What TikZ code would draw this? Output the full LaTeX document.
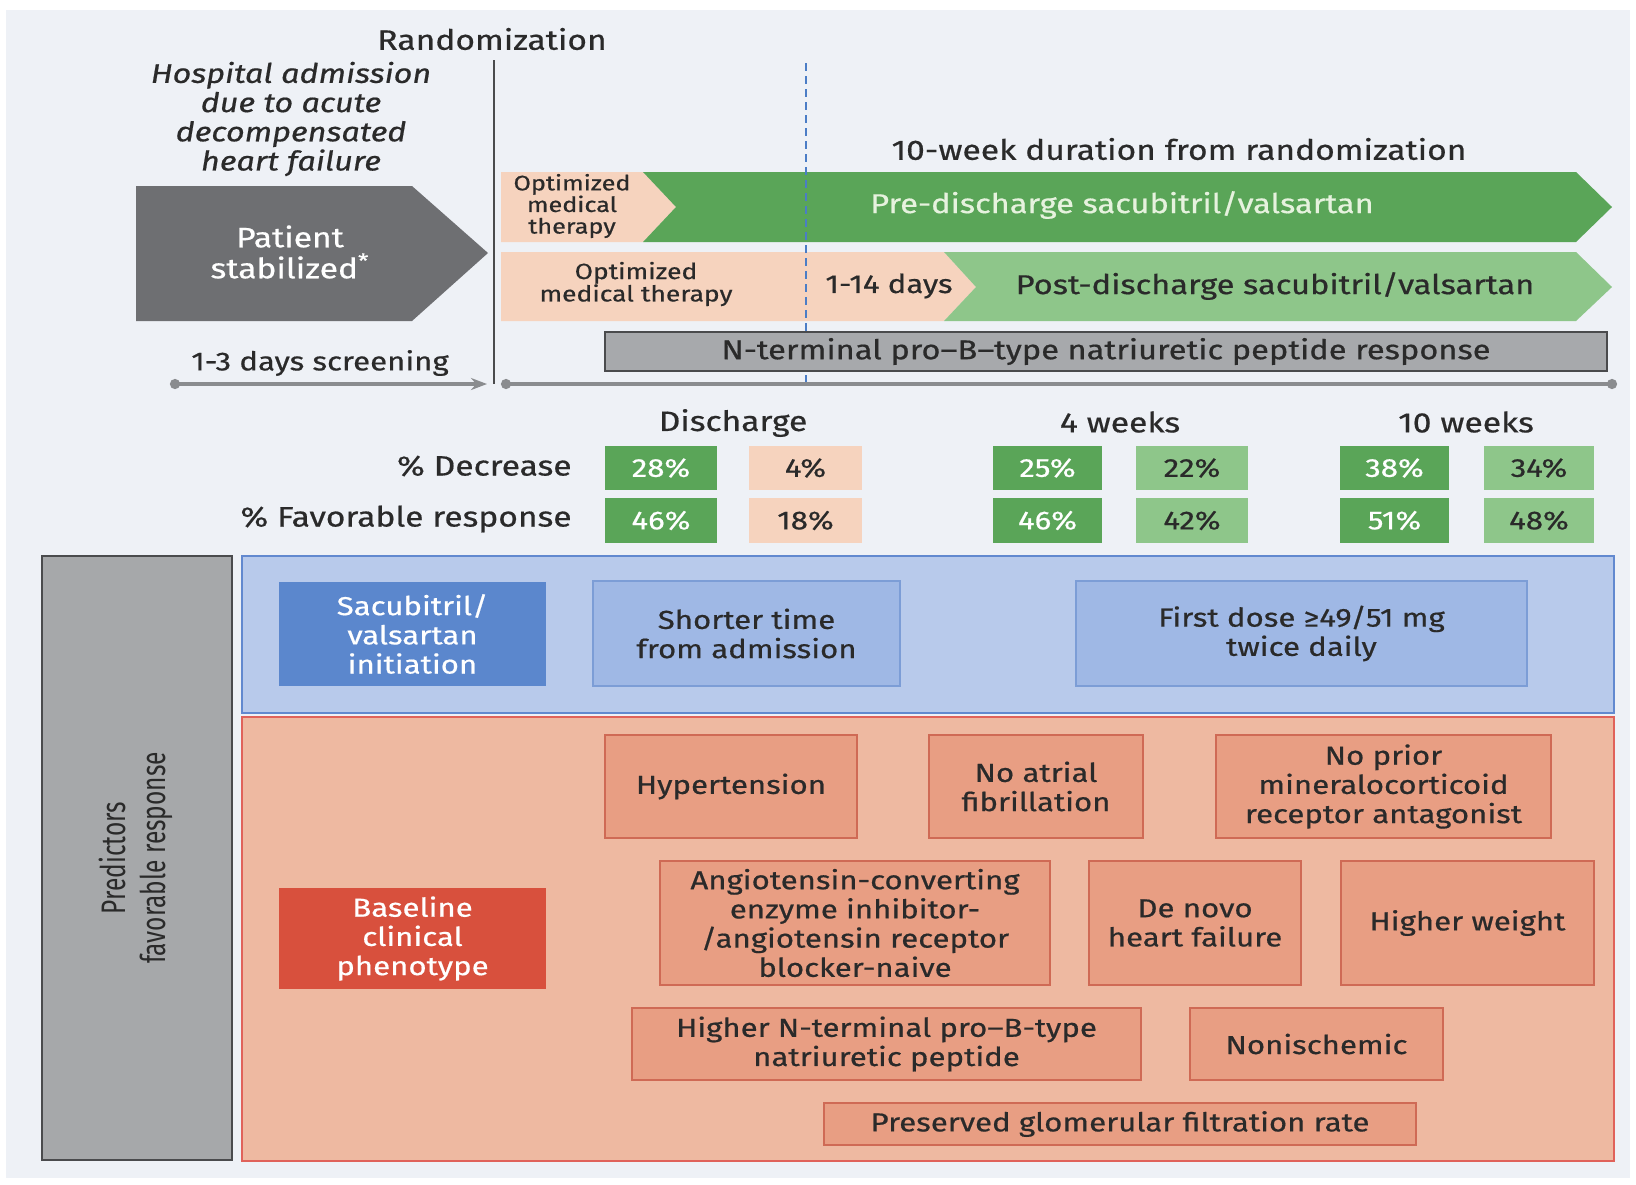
\documentclass[tikz,border=0pt]{standalone}
\usepackage{fontspec}
\setmainfont{Fira Sans}[FakeStretch=1.2, FakeBold=0.6]
\newfontfamily\narrowfont{Fira Sans}[FakeStretch=0.72]
\usetikzlibrary{arrows.meta,fit}

\definecolor{ink}{HTML}{2A2A2A}
\definecolor{pagebg}{HTML}{EEF1F6}
\definecolor{stabgray}{HTML}{6E6F72}
\definecolor{dgreen}{HTML}{5AA558}
\definecolor{lgreen}{HTML}{8EC68A}
\definecolor{pretext}{HTML}{E6F2DE}
\definecolor{peach}{HTML}{F6D3BE}
\definecolor{ntgray}{HTML}{A7A9AC}
\definecolor{darkedge}{HTML}{4A4B4D}
\definecolor{linegray}{HTML}{8A8C8F}
\definecolor{dashblue}{HTML}{4B7DC6}
\definecolor{bluepanel}{HTML}{B8CAEB}
\definecolor{blueedge}{HTML}{6289CF}
\definecolor{bluedark}{HTML}{5B87CD}
\definecolor{bluebox}{HTML}{9FB8E5}
\definecolor{boxedge}{HTML}{7C9DD6}
\definecolor{salpanel}{HTML}{EEB9A1}
\definecolor{saledge}{HTML}{E0625A}
\definecolor{redbox}{HTML}{D8503D}
\definecolor{salbox}{HTML}{E89E83}
\definecolor{salboxedge}{HTML}{CF6A55}
\definecolor{sidegray}{HTML}{A6A8AA}

\tikzset{
  lbl/.style={inner sep=0pt, align=center, text=ink, font=\fontsize{13}{14.6}\selectfont},
  hdr/.style={lbl, font=\fontsize{14}{16}\selectfont},
  ital/.style={lbl, font=\fontsize{13.5}{14.6}\selectfont\itshape},
  bar/.style={lbl, font=\fontsize{13.6}{14.6}\selectfont},
  smalltxt/.style={lbl, font=\fontsize{10.5}{10.8}\selectfont},
  medtxt/.style={lbl, font=\fontsize{11}{11.2}\selectfont},
  % rectangles sized by their corners; their text is set in a separate node
  cbox/.style={inner sep=0pt, line width=1pt},
  pbox/.style={cbox, draw=salboxedge, fill=salbox},
  lbbox/.style={cbox, draw=boxedge, fill=bluebox},
  dbbox/.style={cbox, fill=bluedark},
  rbox/.style={cbox, fill=redbox},
  boxtxt/.style={lbl},
  wboxtxt/.style={lbl, text=white},
  dgcell/.style={cbox, fill=dgreen},
  lgcell/.style={cbox, fill=lgreen},
  pecell/.style={cbox, fill=peach},
  celltxt/.style={lbl, font=\fontsize{13}{14}\selectfont},
  wcelltxt/.style={celltxt, text=white},
  tline/.style={draw=linegray, line width=1.6pt},
}

\begin{document}
\begin{tikzpicture}[x=0.5pt, y=-0.5pt]
% page and panel background
\fill[white] (0,0) rectangle (1636,1184);
\fill[pagebg] (6,10) rectangle (1630,1178);
\useasboundingbox (0,0) rectangle (1636,1184);

% ---------- timeline header ----------
\node[hdr] (rand) at (492,39) {Randomization};
\node[ital] (adm) at (291,119) {Hospital admission\\due to acute\\decompensated\\heart failure};
\node[hdr] (dur) at (1179,149) {10-week duration from randomization};

% patient stabilized arrow
\fill[stabgray] (136,186) -- (412,186) -- (488,253) -- (412,321) -- (136,321) -- cycle;
\node[lbl, text=white, font=\fontsize{14}{15.5}\selectfont] (stab) at (290,252) {Patient\\stabilized\textsuperscript{*}};

% arm 1: pre-discharge
\fill[peach] (501,172) -- (643,172) -- (676,207) -- (643,242) -- (501,242) -- cycle;
\fill[dgreen] (643,172) -- (1576,172) -- (1612,207) -- (1576,242) -- (643,242) -- (676,207) -- cycle;
\node[smalltxt] (omt1) at (572,206) {Optimized\\medical\\therapy};
\node[bar, text=pretext] (pre) at (1122,205) {Pre-discharge sacubitril/valsartan};

% arm 2: post-discharge
\fill[peach] (501,252) -- (944,252) -- (976,287) -- (944,321) -- (501,321) -- cycle;
\fill[lgreen] (944,252) -- (1576,252) -- (1612,287) -- (1576,321) -- (944,321) -- (976,287) -- cycle;
\node[medtxt] (omt2) at (636,284) {Optimized\\medical therapy};
\node[lbl] (d14) at (889,286) {1-14 days};
\node[bar] (post) at (1275,286) {Post-discharge sacubitril/valsartan};

% discharge marker (runs behind the NT-proBNP bar)
\coordinate (dtop) at (806,63);
\coordinate (dbot) at (806,384);
\draw[draw=dashblue, line width=1pt, dash pattern=on 4pt off 2.5pt] (dtop) -- (dbot);

% NT-proBNP bar
\node[cbox, draw=darkedge, fill=ntgray, line width=1.4pt, fit={(605,332)(1607,371)}] (nt) {};
\node[bar] (ntt) at (nt.center) {N-terminal pro–B–type natriuretic peptide response};

% screening and follow-up axes
\node[lbl] (scr) at (320,363) {1-3 days screening};
\coordinate (s0) at (170,384);
\coordinate (s1) at (487,384);
\coordinate (t0) at (501,384);
\coordinate (t1) at (1617,384);
\draw[tline, {Circle[length=5pt]}-{Stealth[length=8pt,width=6pt]}] (s0) -- (s1);
\draw[tline, {Circle[length=5pt]}-{Circle[length=5pt]}] (t0) -- (t1);

% randomization marker
\coordinate (rtop) at (494,60);
\coordinate (rbot) at (494,384);
\draw[draw=darkedge, line width=1.2pt] (rtop) -- (rbot);

% ---------- response table ----------
\node[hdr] (hdis) at (733,423) {Discharge};
\node[hdr] (h4w) at (1120,422) {4 weeks};
\node[hdr] (h10w) at (1466,422) {10 weeks};
\node[hdr, anchor=east] (decL) at (572,466) {\% Decrease};
\node[hdr, anchor=east] (favL) at (572,519) {\% Favorable response};

\node[dgcell, fit={(605,446)(717,490)}] (c11) {};
\node[pecell, fit={(749,446)(862,490)}] (c12) {};
\node[dgcell, fit={(993,446)(1102,490)}] (c13) {};
\node[lgcell, fit={(1136,446)(1248,490)}] (c14) {};
\node[dgcell, fit={(1340,446)(1449,490)}] (c15) {};
\node[lgcell, fit={(1484,446)(1594,490)}] (c16) {};
\node[dgcell, fit={(605,498)(717,543)}] (c21) {};
\node[pecell, fit={(749,498)(862,543)}] (c22) {};
\node[dgcell, fit={(993,498)(1102,543)}] (c23) {};
\node[lgcell, fit={(1136,498)(1248,543)}] (c24) {};
\node[dgcell, fit={(1340,498)(1449,543)}] (c25) {};
\node[lgcell, fit={(1484,498)(1594,543)}] (c26) {};
\node[wcelltxt] (v11) at (c11.center) {28\%};
\node[celltxt]  (v12) at (c12.center) {4\%};
\node[wcelltxt] (v13) at (c13.center) {25\%};
\node[celltxt]  (v14) at (c14.center) {22\%};
\node[wcelltxt] (v15) at (c15.center) {38\%};
\node[celltxt]  (v16) at (c16.center) {34\%};
\node[wcelltxt] (v21) at (c21.center) {46\%};
\node[celltxt]  (v22) at (c22.center) {18\%};
\node[wcelltxt] (v23) at (c23.center) {46\%};
\node[celltxt]  (v24) at (c24.center) {42\%};
\node[wcelltxt] (v25) at (c25.center) {51\%};
\node[celltxt]  (v26) at (c26.center) {48\%};

% ---------- predictors ----------
\node[cbox, draw=darkedge, fill=sidegray, line width=1.4pt, fit={(42,556)(232,1160)}] (side) {};
\node[lbl, rotate=90, font=\fontsize{17}{20}\narrowfont] (sidetxt) at (136,858) {Predictors\\favorable response};

% treatment-related predictors
\node[cbox, draw=blueedge, fill=bluepanel, line width=1.4pt, fit={(242,556)(1614,713)}] (bpanel) {};
\node[dbbox, fit={(279,582)(546,686)}] (svinit) {};
\node[lbbox, fit={(593,581)(900,686)}] (shorter) {};
\node[lbbox, fit={(1076,581)(1527,686)}] (dose) {};
\node[wboxtxt] (svinit-t) at (svinit.center) {Sacubitril/\\valsartan\\initiation};
\node[boxtxt] (shorter-t) at (shorter.center) {Shorter time\\from admission};
\node[boxtxt] (dose-t) at (dose.center) {First dose ≥49/51 mg\\twice daily};

% baseline clinical predictors
\node[cbox, draw=saledge, fill=salpanel, line width=1.4pt, fit={(242,717)(1614,1161)}] (spanel) {};
\node[rbox, fit={(279,888)(546,989)}] (base) {};
\node[pbox, fit={(605,735)(857,838)}] (hyp) {};
\node[pbox, fit={(929,735)(1143,838)}] (noaf) {};
\node[pbox, fit={(1216,735)(1551,838)}] (nomra) {};
\node[pbox, fit={(660,861)(1050,985)}] (ace) {};
\node[pbox, fit={(1089,861)(1301,985)}] (denovo) {};
\node[pbox, fit={(1341,861)(1594,985)}] (weight) {};
\node[pbox, fit={(632,1008)(1141,1080)}] (ntp) {};
\node[pbox, fit={(1190,1008)(1443,1080)}] (nonisch) {};
\node[pbox, fit={(824,1103)(1416,1145)}] (gfr) {};
\node[wboxtxt] (base-t) at (base.center) {Baseline\\clinical\\phenotype};
\node[boxtxt] (hyp-t) at (hyp.center) {Hypertension};
\node[boxtxt] (noaf-t) at (noaf.center) {No atrial\\fibrillation};
\node[boxtxt] (nomra-t) at (nomra.center) {No prior\\mineralocorticoid\\receptor antagonist};
\node[boxtxt] (ace-t) at (ace.center) {Angiotensin-converting\\enzyme inhibitor-\\/angiotensin receptor\\blocker-naive};
\node[boxtxt] (denovo-t) at (denovo.center) {De novo\\heart failure};
\node[boxtxt] (weight-t) at (weight.center) {Higher weight};
\node[boxtxt] (ntp-t) at (ntp.center) {Higher N-terminal pro–B-type\\natriuretic peptide};
\node[boxtxt] (nonisch-t) at (nonisch.center) {Nonischemic};
\node[boxtxt] (gfr-t) at (gfr.center) {Preserved glomerular filtration rate};
\end{tikzpicture}
\end{document}
